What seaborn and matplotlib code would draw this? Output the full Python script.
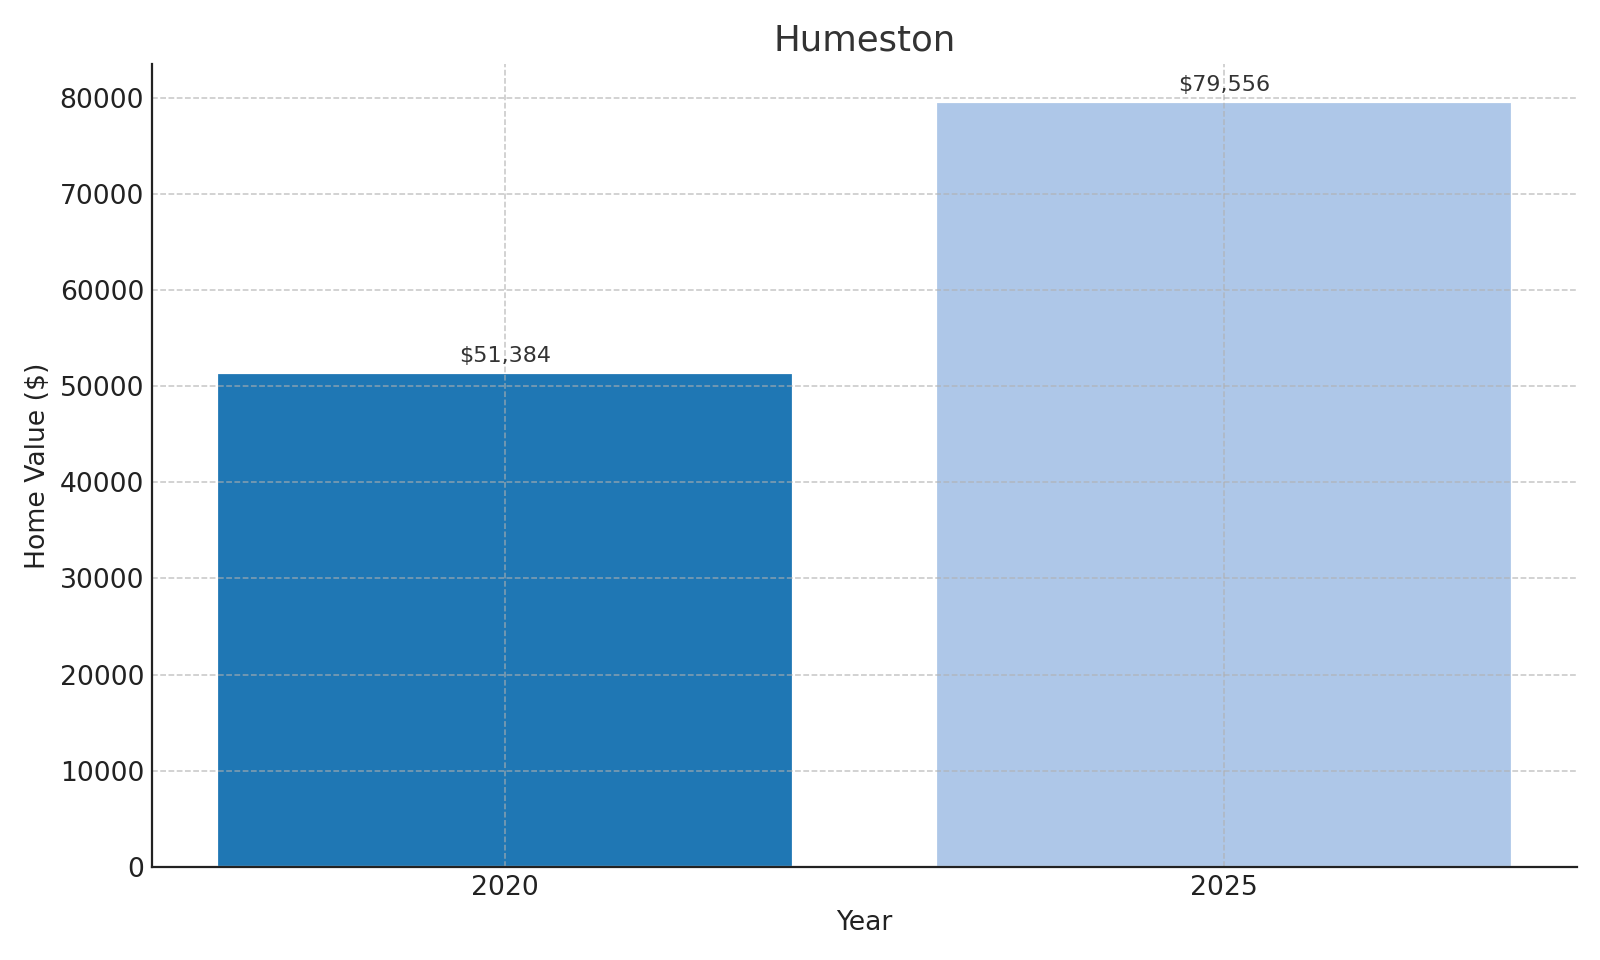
import matplotlib
matplotlib.use("Agg")
import matplotlib.pyplot as plt
import seaborn as sns
import pandas as pd

years = ["2020", "2025"]
values = [51384, 79556]
colors = ["#1f77b4", "#aec7e8"]
title = "Humeston"

df = pd.DataFrame({"Year": years, "Value": values})

sns.set_style("white")
plt.rcParams["font.family"] = ["DejaVu Sans"]

fig = plt.figure(figsize=(10, 6), dpi=160)
ax = fig.add_axes([0.095, 0.097, 0.8906, 0.8365])

sns.barplot(data=df, x="Year", y="Value", hue="Year", palette=colors,
            dodge=False, legend=False, width=0.8, saturation=1, ax=ax, zorder=2)

for c in ax.containers:
    ax.bar_label(c, labels=[f"${v:,.0f}" for v in c.datavalues],
                 padding=3, fontsize=10, color="#333333")

ax.set_xlim(-0.49, 1.49)
ax.set_ylim(0, 83534)
ax.set_axisbelow(False)
ax.grid(True, linestyle="--", color="#b0b0b0", alpha=0.7, linewidth=0.7)
sns.despine(ax=ax)
for s in ["left", "bottom"]:
    ax.spines[s].set_color("#222222")
    ax.spines[s].set_linewidth(1.0)
    ax.spines[s].set_zorder(3)

ax.tick_params(axis="both", direction="in", labelsize=12, colors="#222222",
               length=4, width=0.9, pad=3.5)
ax.set_title(title, fontsize=16, color="#333333", pad=6)
ax.set_xlabel("Year", fontsize=12, color="#222222", labelpad=4)
ax.set_ylabel("Home Value ($)", fontsize=12, color="#222222", labelpad=4)

fig.savefig("out.png", dpi=160)
